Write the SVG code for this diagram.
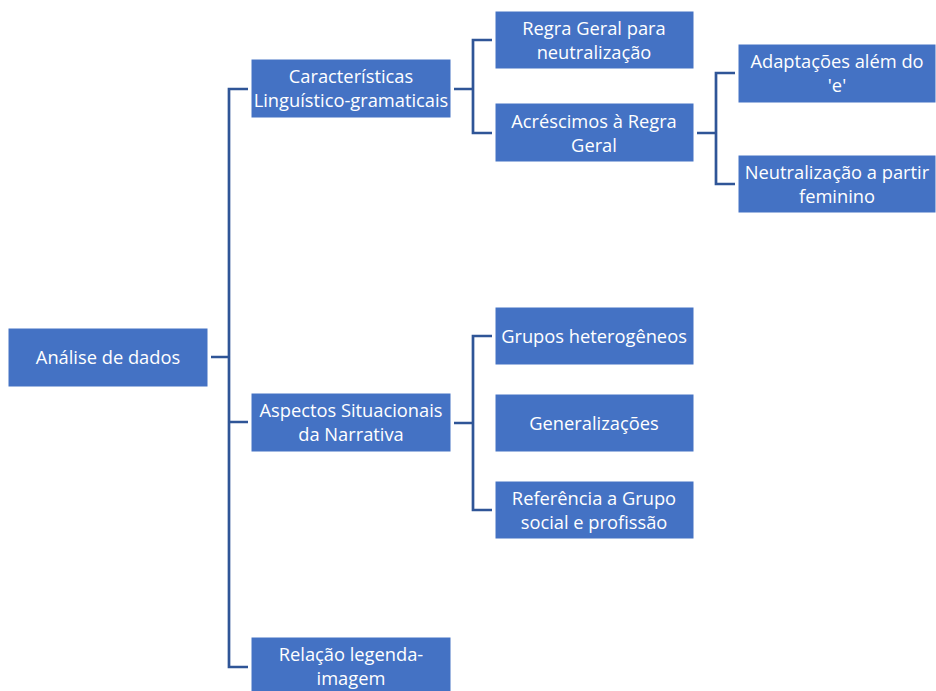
<svg xmlns="http://www.w3.org/2000/svg" width="936" height="691" viewBox="0 0 936 691">
<style>
.b{fill:#4472C4;stroke:#ffffff;stroke-width:1}
.t{font-family:"Open Sans","Noto Sans",sans-serif;font-size:18.3px;fill:#ffffff;text-anchor:middle}
.c{fill:none;stroke:#2F5597;stroke-width:2.7}
</style>
<rect width="936" height="691" fill="#ffffff"/>
<g id="connectors">
<path class="c" d="M211,357 H229 M248,89 H229 V667 H248 M229,422 H248"/>
<path class="c" d="M454,89 H473 M492,40 H473 V133 H492"/>
<path class="c" d="M697,133 H716 M735,73 H716 V184 H735"/>
<path class="c" d="M454,423 H473 M492,336 H473 V510 H492"/>
</g>
<g id="n-root"><rect class="b" x="8" y="328" width="200" height="59"/><text class="t" x="108" y="364">Análise de dados</text></g>
<g id="n-caract"><rect class="b" x="251" y="59" width="200" height="59"/><text class="t" x="351" y="83">Características</text><text class="t" x="351" y="107">Linguístico-gramaticais</text></g>
<g id="n-aspectos"><rect class="b" x="251" y="393" width="200" height="59"/><text class="t" x="351" y="417">Aspectos Situacionais</text><text class="t" x="351" y="441">da Narrativa</text></g>
<g id="n-relacao"><rect class="b" x="251" y="637" width="200" height="59"/><text class="t" x="351" y="661">Relação legenda-</text><text class="t" x="351" y="685">imagem</text></g>
<g id="n-regra"><rect class="b" x="495" y="11" width="199" height="58"/><text class="t" x="594" y="35">Regra Geral para</text><text class="t" x="594" y="59">neutralização</text></g>
<g id="n-acresc"><rect class="b" x="495" y="103" width="199" height="59"/><text class="t" x="594" y="128">Acréscimos à Regra</text><text class="t" x="594" y="152">Geral</text></g>
<g id="n-adapt"><rect class="b" x="738" y="44" width="198" height="59"/><text class="t" x="837" y="68">Adaptações além do</text><text class="t" x="837" y="92">'e'</text></g>
<g id="n-neutral"><rect class="b" x="738" y="155" width="198" height="58"/><text class="t" x="837" y="179">Neutralização a partir</text><text class="t" x="837" y="203">feminino</text></g>
<g id="n-grupos"><rect class="b" x="495" y="307" width="199" height="58"/><text class="t" x="594" y="343">Grupos heterogêneos</text></g>
<g id="n-general"><rect class="b" x="495" y="394" width="199" height="58"/><text class="t" x="594" y="430">Generalizações</text></g>
<g id="n-refer"><rect class="b" x="495" y="481" width="199" height="58"/><text class="t" x="594" y="505">Referência a Grupo</text><text class="t" x="594" y="529">social e profissão</text></g>
</svg>
